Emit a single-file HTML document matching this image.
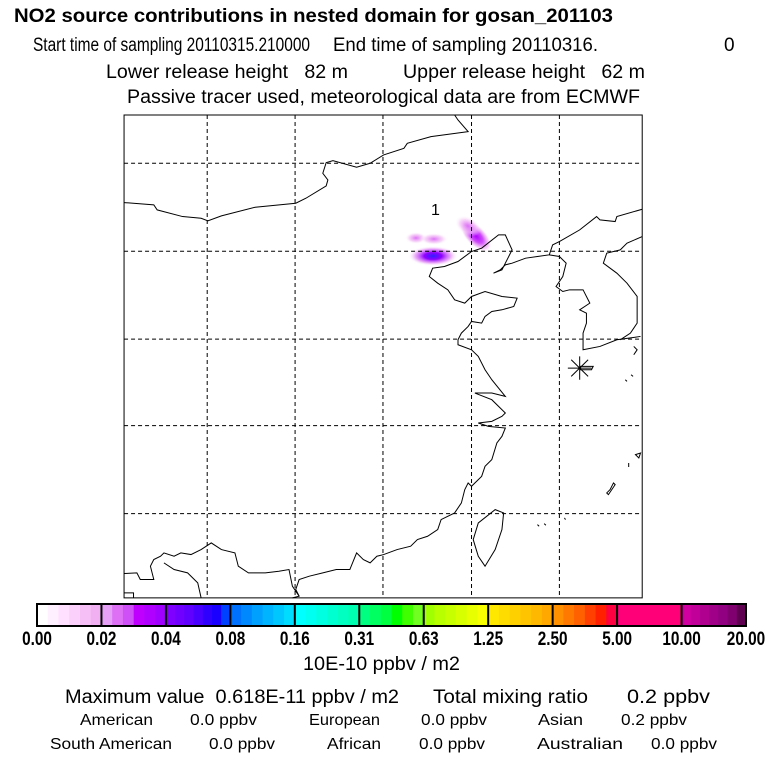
<!DOCTYPE html>
<html><head><meta charset="utf-8"><style>
html,body{margin:0;padding:0;background:#fff;}
svg{display:block;font-family:"Liberation Sans",Arial,sans-serif;}
text{white-space:pre;}
</style></head><body>
<svg id="chart" width="768" height="768" viewBox="0 0 768 768">
<defs>
<radialGradient id="gBlue"><stop offset="0" stop-color="#3020ff"/><stop offset="0.35" stop-color="#9000ff"/><stop offset="0.7" stop-color="#e080f5" stop-opacity="0.7"/><stop offset="1" stop-color="#ffffff" stop-opacity="0"/></radialGradient>
<radialGradient id="gPurp"><stop offset="0" stop-color="#b000ff"/><stop offset="0.45" stop-color="#d050f8"/><stop offset="0.8" stop-color="#f0b0f5" stop-opacity="0.6"/><stop offset="1" stop-color="#ffffff" stop-opacity="0"/></radialGradient>
<radialGradient id="gPink"><stop offset="0" stop-color="#dc70f5"/><stop offset="0.6" stop-color="#f3c0f5" stop-opacity="0.7"/><stop offset="1" stop-color="#ffffff" stop-opacity="0"/></radialGradient>
</defs>
<g font-size="19">
<text x="14" y="22" font-weight="bold" font-size="19" textLength="599" lengthAdjust="spacingAndGlyphs">NO2 source contributions in nested domain for gosan_201103</text>
<text x="33" y="51" textLength="277" lengthAdjust="spacingAndGlyphs">Start time of sampling 20110315.210000</text>
<text x="333" y="51" textLength="265" lengthAdjust="spacingAndGlyphs">End time of sampling 20110316.</text>
<text x="724" y="51">0</text>
<text x="106" y="78" textLength="242" lengthAdjust="spacingAndGlyphs">Lower release height   82 m</text>
<text x="403" y="78" textLength="242" lengthAdjust="spacingAndGlyphs">Upper release height   62 m</text>
<text x="127" y="103" textLength="513" lengthAdjust="spacingAndGlyphs">Passive tracer used, meteorological data are from ECMWF</text>
</g>
<g id="plumes"></g>
<g transform="translate(120,110) scale(0.338,0.333)" fill="none" stroke="#000">
<g stroke-dasharray="4 3" stroke-width="1">
<path vector-effect="non-scaling-stroke" d="M258,15V1465M518,15V1465M778,15V1465M1040,15V1465M1300,15V1465M12,160H1545M12,424H1545M12,688H1545M12,948H1545M12,1212H1545"/>
</g>
<g stroke-width="1">
<path vector-effect="non-scaling-stroke" d="M12,278 L100,285 L110,300 L185,320 L240,325 L260,333 L300,318 L400,292 L520,280 L550,265 L610,228 L615,210 L600,190 L610,158 L630,152 L700,172 L740,160 L780,135 L840,115 L850,100 L920,80 L1030,65 L1000,30 L990,15"/>
<path vector-effect="non-scaling-stroke" d="M1545,298 L1470,320 L1465,335 L1420,330 L1410,320 L1360,360 L1300,395 L1280,405 L1270,435 L1235,440 L1200,445 L1160,460 L1140,465 L1125,480 L1105,490 L1130,480 L1160,420 L1140,375 L1120,375 L1070,415 L1040,425 L1000,455 L960,470 L925,475 L915,500 L940,520 L970,540 L990,570 L1020,580 L1040,560 L1080,545 L1130,560 L1175,565 L1165,590 L1130,600 L1100,605 L1080,620 L1070,640 L1040,635 L1030,650 L1010,670 L1000,690 L1000,705 L1040,720 L1060,740 L1080,780 L1100,810 L1140,860 L1100,850 L1050,850 L1100,870 L1140,910 L1130,920 L1100,935 L1060,940 L1090,950 L1140,955 L1130,980 L1115,1000 L1100,1050 L1080,1070 L1070,1100 L1040,1130 L1030,1120 L1020,1140 L1010,1180 L990,1210 L950,1230 L940,1260 L910,1280 L880,1290 L860,1310 L820,1320 L780,1335 L760,1340 L740,1360 L720,1350 L700,1330 L680,1380 L640,1380 L600,1390 L560,1400 L530,1410 L520,1440 L530,1460 L510,1465"/>
<path vector-effect="non-scaling-stroke" d="M12,1392 L50,1390 L60,1410 L100,1410 L90,1370 L100,1350 L120,1340 L130,1330 L160,1340 L180,1330 L210,1335 L240,1320 L270,1300 L300,1320 L340,1330 L350,1370 L380,1390 L430,1390 L470,1385 L500,1380 L510,1430 L530,1460"/>
<path vector-effect="non-scaling-stroke" d="M12,1450 L40,1450 L40,1465 M130,1360 L160,1380 L200,1390 L230,1420 L240,1465"/>
<path vector-effect="non-scaling-stroke" d="M1270,435 L1300,440 L1320,460 L1310,500 L1290,530 L1310,545 L1330,540 L1370,540 L1390,580 L1360,600 L1380,610 L1380,640 L1370,670 L1370,720 L1420,710 L1470,690 L1540,680"/>
<path vector-effect="non-scaling-stroke" d="M1545,380 L1500,400 L1480,420 L1440,430 L1430,460 L1470,490 L1500,520 L1530,560 L1530,640 L1510,670 L1480,690"/>
<path vector-effect="non-scaling-stroke" d="M1110,1200 L1135,1210 L1130,1260 L1110,1320 L1080,1370 L1060,1340 L1045,1290 L1060,1240 Z"/>
<path vector-effect="non-scaling-stroke" d="M1360,770 L1400,770 L1395,780 L1360,780 M1520,710 L1530,720 L1520,735 M1495,810 L1500,815 M1512,795 L1518,800 M1525,1035 L1540,1030 L1535,1045 Z M1505,1060 L1505,1072 M1460,1120 L1450,1140 L1440,1150 L1445,1155 L1465,1125 Z M1235,1245 L1240,1250 M1255,1242 L1260,1247 M1315,1225 L1318,1230"/>
</g>
<g stroke-width="1">
<path vector-effect="non-scaling-stroke" d="M1325,775H1395M1360,740V810M1335,750L1385,800M1385,750L1335,800"/>
</g>
<rect x="12" y="15" width="1533" height="1450" stroke-width="1" vector-effect="non-scaling-stroke"/>
</g>
<text x="431" y="215" font-size="16">1</text>
<g id="colorbar"></g>
<g id="cbticks" font-weight="bold" font-size="19" text-anchor="middle"></g>
<g font-size="19">
<text x="303" y="670" textLength="157" lengthAdjust="spacingAndGlyphs">10E-10 ppbv / m2</text>
<text x="65" y="703" textLength="334" lengthAdjust="spacingAndGlyphs">Maximum value  0.618E-11 ppbv / m2</text>
<text x="433" y="703" textLength="155" lengthAdjust="spacingAndGlyphs">Total mixing ratio</text>
<text x="627" y="703" textLength="83" lengthAdjust="spacingAndGlyphs">0.2 ppbv</text>
<g font-size="16">
<text x="80" y="725" textLength="73" lengthAdjust="spacingAndGlyphs">American</text>
<text x="190" y="725" textLength="67" lengthAdjust="spacingAndGlyphs">0.0 ppbv</text>
<text x="309" y="725" textLength="71" lengthAdjust="spacingAndGlyphs">European</text>
<text x="421" y="725" textLength="66" lengthAdjust="spacingAndGlyphs">0.0 ppbv</text>
<text x="538" y="725" textLength="45" lengthAdjust="spacingAndGlyphs">Asian</text>
<text x="621" y="725" textLength="66" lengthAdjust="spacingAndGlyphs">0.2 ppbv</text>
<text x="50" y="749" textLength="122" lengthAdjust="spacingAndGlyphs">South American</text>
<text x="209" y="749" textLength="66" lengthAdjust="spacingAndGlyphs">0.0 ppbv</text>
<text x="327" y="749" textLength="54" lengthAdjust="spacingAndGlyphs">African</text>
<text x="419" y="749" textLength="66" lengthAdjust="spacingAndGlyphs">0.0 ppbv</text>
<text x="537" y="749" textLength="86" lengthAdjust="spacingAndGlyphs">Australian</text>
<text x="651" y="749" textLength="66" lengthAdjust="spacingAndGlyphs">0.0 ppbv</text>
</g>
</g>
</svg>
<script>
const NS = "http://www.w3.org/2000/svg";
const tickLabels = ["0.00","0.02","0.04","0.08","0.16","0.31","0.63","1.25","2.50","5.00","10.00","20.00"];
const segmentColors = [
 ["#ffffff","#fff0ff","#ffe0ff","#fbd0fb","#f6c0f6","#f0b0f2"],
 ["#e6a0f5","#dd70f5","#d050f8","#c000ff","#b000ff","#a000ff"],
 ["#8000ff","#7000ff","#6000ff","#4a00ff","#3000ff","#1a00ff","#0040ff"],
 ["#0070ff","#0088ff","#00a0ff","#00b4ff","#00c8ff","#00dcff"],
 ["#00ffff","#00fff0","#00ffe0","#00ffd0","#00ffc0","#00ffb0"],
 ["#00ff80","#00ff60","#00ff40","#00ff00","#40ff00","#70ff20"],
 ["#a0ff00","#b8ff00","#c8ff00","#d8ff00","#e8ff00","#f8ff00"],
 ["#ffe800","#ffdc00","#ffd000","#ffc400","#ffb800","#ffa800"],
 ["#ff9000","#ff7800","#ff6000","#ff4000","#ff2000","#ff0040"],
 ["#ff0078"],
 ["#d000a0","#c00098","#b00090","#a00088","#900080","#800070","#600050"]
];
const plumeX = [433, 476, 468, 416, 434];
const plumeY = [256, 236, 226, 238, 239];
const plumeLevel = ["gBlue", "gPurp", "gPink", "gPink", "gPink"];
const plumeRx = [25, 20, 14, 11, 14];
const plumeRy = [10, 10, 9, 6, 6];
const plumeAngle = [0, 45, 30, 0, 0];

const bx0 = 37, bx1 = 746, by = 604, bh = 22;
const segW = (bx1 - bx0) / segmentColors.length;
const cb = document.getElementById('colorbar');
segmentColors.forEach((cols, i) => {
  const sw = segW / cols.length;
  cols.forEach((c, j) => {
    const r = document.createElementNS(NS, 'rect');
    
    
    r.setAttribute('x', bx0 + i * segW + j * sw);
    r.setAttribute('y', by);
    r.setAttribute('width', sw + 0.5);
    r.setAttribute('height', bh);
    r.setAttribute('fill', c);
    cb.appendChild(r);
  });
});
for (let i = 0; i <= segmentColors.length; i++) {
  const l = document.createElementNS(NS, 'line');
  
  
  l.setAttribute('x1', bx0 + i * segW); l.setAttribute('x2', bx0 + i * segW);
  l.setAttribute('y1', by); l.setAttribute('y2', by + bh);
  l.setAttribute('stroke', '#000'); l.setAttribute('stroke-width', '2');
  cb.appendChild(l);
}
const fr = document.createElementNS(NS, 'rect');


fr.setAttribute('x', bx0); fr.setAttribute('y', by);
fr.setAttribute('width', bx1 - bx0); fr.setAttribute('height', bh);
fr.setAttribute('fill', 'none'); fr.setAttribute('stroke', '#000'); fr.setAttribute('stroke-width', '2');
cb.appendChild(fr);
const tk = document.getElementById('cbticks');
tickLabels.forEach((t, i) => {
  const e = document.createElementNS(NS, 'text');
  
  
  e.setAttribute('x', bx0 + i * segW);
  e.setAttribute('y', 645);
  e.setAttribute('textLength', (t.length - 1) * 8.6 + 4);
  e.setAttribute('lengthAdjust', 'spacingAndGlyphs');
  e.textContent = t;
  tk.appendChild(e);
});
const pl = document.getElementById('plumes');
plumeX.forEach((x, i) => {
  const e = document.createElementNS(NS, 'ellipse');
  
  
  e.setAttribute('cx', x); e.setAttribute('cy', plumeY[i]);
  e.setAttribute('rx', plumeRx[i]); e.setAttribute('ry', plumeRy[i]);
  e.setAttribute('transform', 'rotate(' + plumeAngle[i] + ' ' + x + ' ' + plumeY[i] + ')');
  e.setAttribute('fill', 'url(#' + plumeLevel[i] + ')');
  pl.appendChild(e);
});
</script>
</body></html>
